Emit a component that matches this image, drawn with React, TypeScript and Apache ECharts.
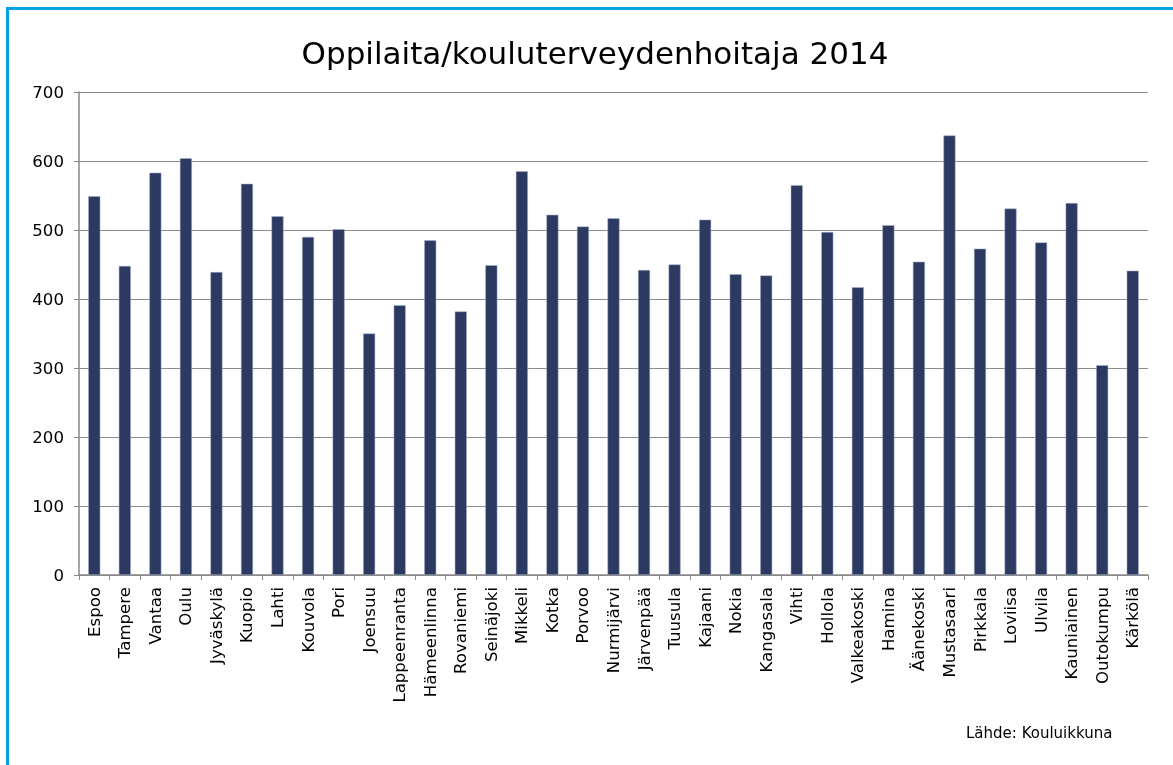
import React, { useEffect, useRef } from "react";
import * as echarts from "echarts";

const categories = [
  "Espoo", "Tampere", "Vantaa", "Oulu", "Jyväskylä", "Kuopio", "Lahti", "Kouvola", "Pori",
  "Joensuu", "Lappeenranta", "Hämeenlinna", "Rovaniemi", "Seinäjoki", "Mikkeli", "Kotka",
  "Porvoo", "Nurmijärvi", "Järvenpää", "Tuusula", "Kajaani", "Nokia", "Kangasala", "Vihti",
  "Hollola", "Valkeakoski", "Hamina", "Äänekoski", "Mustasaari", "Pirkkala", "Loviisa",
  "Ulvila", "Kauniainen", "Outokumpu", "Kärkölä",
];

const values = [
  549, 448, 583, 604, 439, 567, 520, 490, 501,
  350, 391, 485, 382, 449, 585, 522,
  505, 517, 442, 450, 515, 436, 434, 565,
  497, 417, 507, 454, 637, 473, 531,
  482, 539, 304, 441,
];

const yTicks = [0, 100, 200, 300, 400, 500, 600, 700];

const titleText = "Oppilaita/kouluterveydenhoitaja 2014";
const sourceText = "Lähde: Kouluikkuna";

const FONT = "'DejaVu Sans', Verdana, sans-serif";

export default function App() {
  const ref = useRef<HTMLDivElement>(null);

  useEffect(() => {
    if (!ref.current) return;
    const chart = echarts.init(ref.current, undefined, { renderer: "svg" });
    chart.setOption({
      animation: false,
      backgroundColor: "transparent",
      textStyle: { fontFamily: FONT },
      title: {
        text: titleText,
        left: 590,
        top: 32,
        textAlign: "center",
        textStyle: { fontFamily: FONT, fontSize: 31, fontWeight: "normal", color: "#000" },
      },
      grid: { left: 79, right: 25, top: 92, bottom: 190, containLabel: false },
      xAxis: {
        type: "category",
        data: categories,
        axisLine: { show: true, lineStyle: { color: "#888", width: 1.5 } },
        axisTick: { show: true, length: 5, lineStyle: { color: "#888" } },
        axisLabel: {
          rotate: 90,
          interval: 0,
          margin: 12,
          fontSize: 16.6,
          fontFamily: FONT,
          color: "#000",
        },
      },
      yAxis: {
        type: "value",
        min: yTicks[0],
        max: yTicks[yTicks.length - 1],
        interval: 100,
        axisLine: { show: true, lineStyle: { color: "#888", width: 1.5 } },
        axisTick: { show: true, length: 5, lineStyle: { color: "#888" } },
        axisLabel: { margin: 15, fontSize: 16.6, fontFamily: FONT, color: "#000" },
        splitLine: { show: true, lineStyle: { color: "#8c8c8c", width: 1 } },
      },
      series: [
        {
          type: "bar",
          data: values,
          barWidth: 12,
          itemStyle: { color: "#2c3a62", borderColor: "#a9b1c8", borderWidth: 0.5 },
        },
      ],
      graphic: [
        {
          type: "text",
          left: 966,
          top: 725,
          style: { text: sourceText, fontSize: 15, fontFamily: FONT, fill: "#000" },
        },
      ],
    });
    return () => chart.dispose();
  }, []);

  return (
    <div>
      <div
        style={{
          position: "fixed",
          left: 6,
          top: 7,
          width: 1300,
          height: 900,
          borderLeft: "3px solid #05a3e3",
          borderTop: "3px solid #05a3e3",
          boxSizing: "border-box",
        }}
      />
      <div
        ref={ref}
        style={{ position: "fixed", left: 0, top: 0, width: 1173, height: 765 }}
      />
    </div>
  );
}
